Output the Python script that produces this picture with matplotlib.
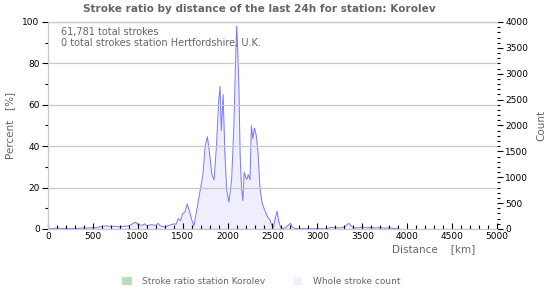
import matplotlib
matplotlib.use("Agg")
import matplotlib.pyplot as plt
from matplotlib.ticker import MultipleLocator
from matplotlib.patches import Patch

# values
distance_km = [0, 50, 100, 150, 200, 250, 300, 350, 400, 450, 500, 550, 600, 650, 700,
               750, 800, 850, 900, 950, 975, 1000, 1050, 1075, 1100, 1150, 1200, 1225,
               1250, 1300, 1350, 1400, 1425, 1450, 1475, 1500, 1525, 1550, 1575, 1600,
               1625, 1650, 1675, 1700, 1725, 1750, 1775, 1800, 1825, 1850, 1875, 1900,
               1915, 1930, 1950, 1970, 1990, 2015, 2045, 2070, 2085, 2100, 2110, 2125,
               2140, 2155, 2170, 2185, 2200, 2215, 2230, 2250, 2265, 2280, 2300, 2320,
               2340, 2360, 2385, 2410, 2440, 2470, 2490, 2510, 2530, 2550, 2570, 2590,
               2625, 2650, 2700, 2725, 2750, 2800, 2850, 2900, 2950, 3000, 3050, 3100,
               3150, 3200, 3250, 3300, 3350, 3375, 3400, 3450, 3500, 3550, 3600, 3650,
               3700, 3750, 3800, 3850, 3900]
stroke_count = [10, 5, 20, 10, 15, 5, 10, 15, 20, 20, 25, 30, 50, 60, 45,
                55, 40, 55, 60, 110, 130, 90, 70, 100, 60, 85, 70, 110,
                60, 40, 70, 100, 90, 200, 160, 300, 330, 480, 350, 180,
                60, 300, 550, 800, 1050, 1600, 1780, 1450, 1050, 950, 1580, 2450,
                2760, 1900, 2600, 1450, 750, 520, 950, 2000, 3000, 3920, 3600, 2800,
                1400, 800, 550, 1100, 1000, 960, 1050, 950, 2000, 1750, 1950, 1800,
                1450, 800, 500, 380, 250, 180, 80, 20, 200, 340, 150, 30,
                10, 30, 110, 30, 10, 5, 10, 5, 5, 10, 5, 5,
                30, 25, 20, 40, 110, 60, 30, 20, 40, 25, 30, 20,
                30, 15, 25, 10, 15]
ratio_percent = [0] * len(distance_km)  # no strokes for the station

title = "Stroke ratio by distance of the last 24h for station: Korolev"
info_lines = ["61,781 total strokes", "0 total strokes station Hertfordshire, U.K."]
legend_labels = ["Stroke ratio station Korolev", "Whole stroke count"]

grey = "#666666"
plt.rcParams["font.family"] = "DejaVu Sans"
plt.rcParams["font.size"] = 6.5

fig = plt.figure(figsize=(5.5, 3.0), dpi=100)
ax = fig.add_axes([0.0873, 0.2367, 0.8163, 0.69])
ax2 = ax.twinx()

# whole stroke count on the right axis
ax2.fill_between(distance_km, stroke_count, color="#eeeeff", lw=0)
ax2.plot(distance_km, stroke_count, color="#7777ff", lw=0.7)
ax2.set_ylim(0, 4000)
ax2.yaxis.set_major_locator(MultipleLocator(500))
ax2.yaxis.set_minor_locator(MultipleLocator(100))
ax2.set_ylabel("Count", color=grey, fontsize=7.5, labelpad=6)

# ratio on the left axis (all zero here)
ax.plot(distance_km, ratio_percent, color="#b8e0b8", lw=0)
ax.set_xlim(0, 5000)
ax.set_ylim(0, 100)
ax.yaxis.set_major_locator(MultipleLocator(20))
ax.yaxis.set_minor_locator(MultipleLocator(10))
ax.xaxis.set_major_locator(MultipleLocator(500))
ax.xaxis.set_minor_locator(MultipleLocator(100))
ax.grid(axis="y", color="#c8c8c8", lw=0.9)
ax.set_axisbelow(True)
ax.set_zorder(ax2.get_zorder() + 1)
ax.patch.set_visible(False)
ax.set_ylabel("Percent   [%]", color=grey, fontsize=7.5, labelpad=5)

for a in (ax, ax2):
    for s in a.spines.values():
        s.set_color("#c8c8c8")
    a.spines["right"].set_visible(False)
ax.tick_params(axis="x", direction="in", length=4, width=0.8, color="black", pad=2)
ax.tick_params(axis="x", which="minor", direction="in", length=3, width=0.8)
ax.tick_params(axis="y", length=4, width=0.8, color="black", pad=2)
ax.tick_params(axis="y", which="minor", length=2, width=0.8, color="black")
ax2.tick_params(axis="y", length=4, width=0.8, color="black", pad=2)
ax2.tick_params(axis="y", which="minor", length=2, width=0.8)

ax.text(4760, -7.5, "Distance    [km]", color=grey, fontsize=7.5, ha="right", va="top")
for i, line in enumerate(info_lines):
    ax.text(150, 95 - i * 5, line, color=grey, fontsize=7, va="center")

fig.suptitle(title, x=0.471, y=0.985, fontsize=7.6, fontweight="bold", color=grey)

handles = [Patch(facecolor="#b8e0b8", edgecolor="none"),
           Patch(facecolor="#f0f0ff", edgecolor="none")]
fig.legend(handles, legend_labels, loc="lower center", bbox_to_anchor=(0.475, 0.02),
           ncol=2, frameon=False, fontsize=6.5, labelcolor=grey,
           handlelength=1.0, handleheight=1.0, columnspacing=3.0, handletextpad=1.2)

fig.savefig("out.png", dpi=100)
